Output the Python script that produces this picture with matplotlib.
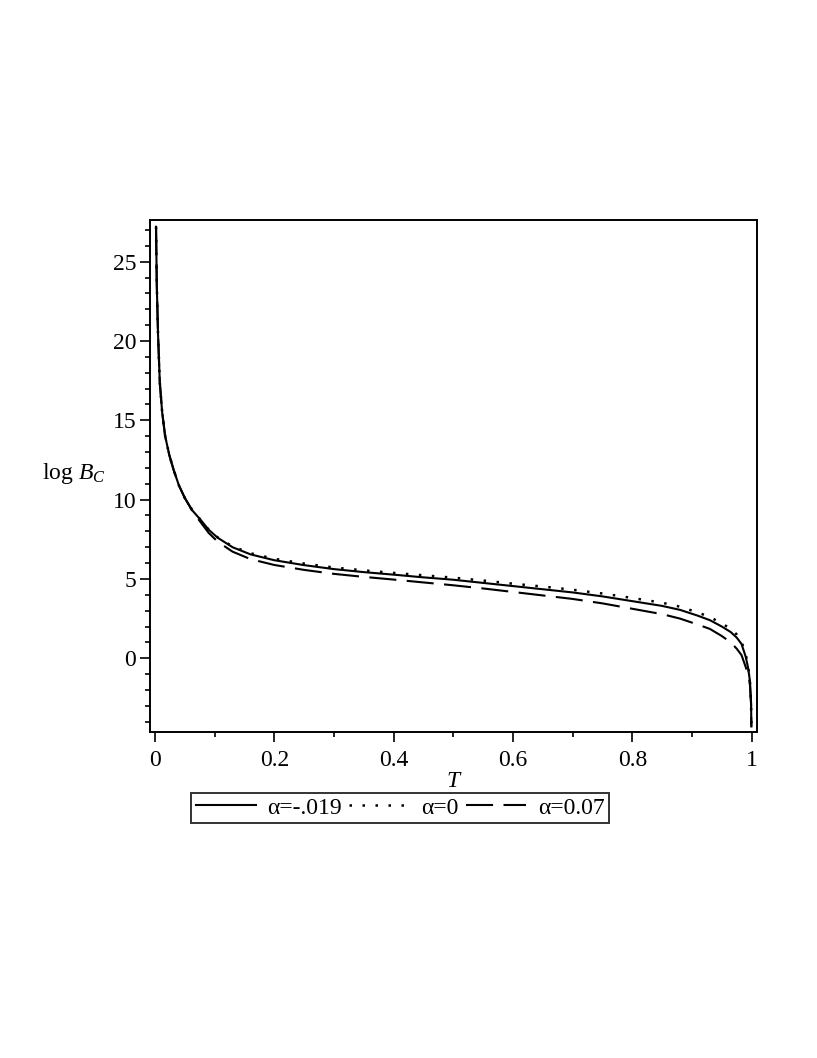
import matplotlib
matplotlib.use("Agg")
import matplotlib.pyplot as plt
from matplotlib.ticker import MultipleLocator

plt.rcParams['font.family'] = ['Liberation Serif', 'DejaVu Serif']
plt.rcParams['mathtext.fontset'] = 'custom'
plt.rcParams['mathtext.rm'] = 'Liberation Serif'
plt.rcParams['mathtext.it'] = 'Liberation Serif:italic'

# values
T = [0.0017, 0.003, 0.005, 0.008, 0.012, 0.017, 0.024, 0.031, 0.04, 0.05,
     0.063, 0.077, 0.09, 0.105, 0.13, 0.16, 0.2, 0.25, 0.3, 0.35,
     0.4, 0.45, 0.5, 0.55, 0.6, 0.65, 0.7, 0.75, 0.8, 0.85,
     0.88, 0.91, 0.93, 0.95, 0.965, 0.975, 0.983, 0.99, 0.994, 0.997,
     0.999, 0.9995]

logB_m019 = [27.2, 23.5, 20.5, 17.4, 15.5, 14.0, 12.8, 11.9, 10.9, 10.1,
             9.3, 8.7, 8.1, 7.6, 7.0, 6.55, 6.18, 5.87, 5.62, 5.43,
             5.27, 5.1, 4.95, 4.75, 4.55, 4.35, 4.15, 3.9, 3.6, 3.3,
             3.05, 2.68, 2.4, 2.0, 1.65, 1.3, 0.9, 0.1, -0.6, -1.4,
             -2.8, -4.3]

logB_0 = [27.2, 23.5, 20.5, 17.4, 15.5, 14.0, 12.8, 11.9, 10.9, 10.1,
          9.3, 8.7, 8.1, 7.62, 7.05, 6.62, 6.27, 5.97, 5.72, 5.54,
          5.38, 5.23, 5.08, 4.9, 4.7, 4.52, 4.32, 4.08, 3.8, 3.5,
          3.25, 2.88, 2.6, 2.2, 1.85, 1.5, 1.05, 0.25, -0.5, -1.35,
          -2.8, -4.3]

logB_007 = [27.2, 23.5, 20.5, 17.4, 15.5, 14.0, 12.8, 11.9, 10.9, 10.1,
            9.25, 8.55, 7.9, 7.35, 6.72, 6.25, 5.88, 5.57, 5.32, 5.13,
            4.96, 4.78, 4.6, 4.4, 4.18, 3.96, 3.74, 3.46, 3.12, 2.78,
            2.5, 2.12, 1.85, 1.4, 1.0, 0.6, 0.2, -0.55, -1.0, -1.6,
            -2.9, -4.3]

labels = ['α=-.019', 'α=0', 'α=0.07']

fig = plt.figure(figsize=(8.17, 10.58), dpi=100)
ax = fig.add_axes([0.1836, 0.3078, 0.743, 0.4843])

ax.plot(T, logB_m019, color='black', lw=1.5, label=labels[0])
ax.plot(T, logB_0, color='black', lw=1.8, linestyle=(0, (1, 4.2)), label=labels[1])
ax.plot(T, logB_007, color='black', lw=1.5, linestyle=(0, (13, 5)), label=labels[2])

ax.set_xlim(-0.0084, 1.009)
ax.set_ylim(-4.67, 27.63)

ax.yaxis.set_major_locator(MultipleLocator(5))
ax.yaxis.set_minor_locator(MultipleLocator(1))
ax.xaxis.set_minor_locator(MultipleLocator(0.1))
ax.set_xticks([0, 0.2, 0.4, 0.6, 0.8, 1.0])
ax.set_xticklabels(['0', '0.2', '0.4', '0.6', '0.8', '1'])

ax.tick_params(which='major', length=7, width=1.2, labelsize=17, direction='out')
ax.tick_params(which='minor', length=3.5, width=1.2, direction='out')
ax.tick_params(axis='x', pad=6)
ax.tick_params(axis='y', pad=3)
ax.tick_params(top=False, right=False)

for s in ax.spines.values():
    s.set_linewidth(1.4)

ax.set_ylabel(r'log $B_C$', rotation=0, fontsize=17, ha='center', va='center')
ax.yaxis.set_label_coords(-0.125, 0.505)
ax.set_xlabel(r'$T$', fontsize=17, va='center')
ax.xaxis.set_label_coords(0.502, -0.095)

leg = fig.legend(loc='center', bbox_to_anchor=(0.4896, 0.2363), ncol=3,
                 fontsize=17, frameon=True, fancybox=False,
                 handlelength=2.55, handletextpad=0.5, columnspacing=0.3,
                 borderpad=0.2, borderaxespad=0)
leg.get_frame().set_edgecolor('black')
leg.get_frame().set_linewidth(1.4)

fig.savefig('out.png', dpi=100)
